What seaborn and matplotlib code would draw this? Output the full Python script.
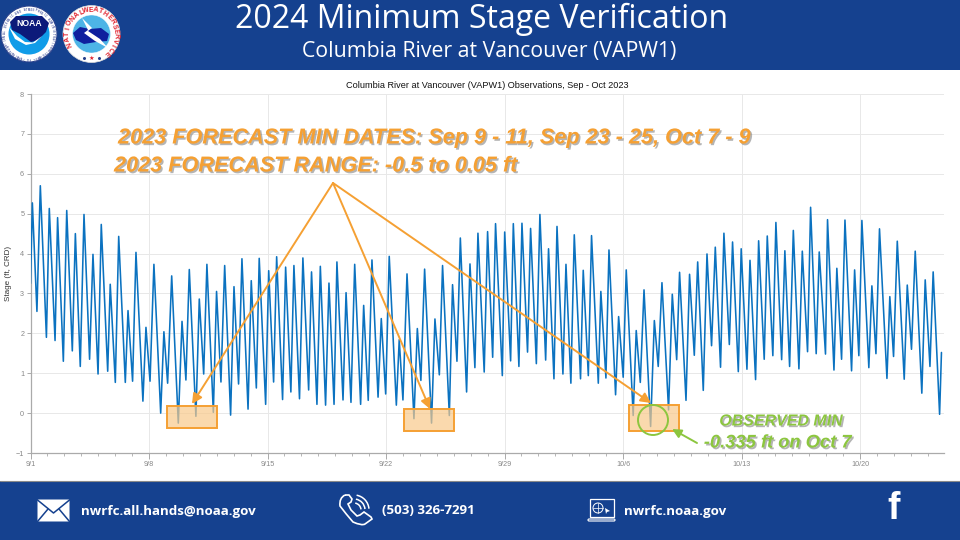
import numpy as np
import pandas as pd
import matplotlib
matplotlib.use('Agg')
import matplotlib.pyplot as plt
import matplotlib.patheffects as pe
from matplotlib.patches import Rectangle, Circle, Wedge, Polygon, Arc, FancyBboxPatch, PathPatch
from matplotlib.path import Path
import seaborn as sns

# days since 9/1 of each tidal high / low
days = [0, .11, .38, .58, .94, 1.11, 1.45, 1.60, 1.94, 2.14, 2.47, 2.65, 2.94, 3.16, 3.49, 3.69, 3.99, 4.18, 4.56, 4.71,
        5.01, 5.21, 5.60, 5.76, 6.03, 6.23, 6.64, 6.82, 7.06, 7.29, 7.69, 7.88, 8.10, 8.34, 8.73, 8.95, 9.18, 9.38, 9.77, 9.97,
        10.23, 10.42, 10.80, 10.99, 11.25, 11.47, 11.82, 12.02, 12.29, 12.49, 12.85, 13.04, 13.34, 13.51, 13.89, 14.07, 14.36, 14.54, 14.89, 15.07,
        15.38, 15.56, 15.89, 16.09, 16.43, 16.60, 16.92, 17.12, 17.43, 17.63, 17.93, 18.10, 18.46, 18.64, 18.93, 19.15, 19.50, 19.68, 19.95, 20.17,
        20.53, 20.72, 20.98, 21.19, 21.61, 21.78, 22.00, 22.24, 22.65, 22.85, 23.06, 23.28, 23.69, 23.89, 24.15, 24.34, 24.74, 24.93, 25.19, 25.39,
        25.76, 25.96, 26.25, 26.43, 26.80, 27.00, 27.30, 27.47, 27.87, 28.01, 28.36, 28.52, 28.85, 29.03, 29.36, 29.54, 29.88, 30.09, 30.43, 30.60,
        30.92, 31.10, 31.45, 31.63, 31.92, 32.12, 32.49, 32.65, 32.95, 33.14, 33.54, 33.69, 33.99, 34.17, 34.56, 34.74, 35.01, 35.19, 35.60, 35.78,
        36.02, 36.24, 36.63, 36.85, 37.08, 37.30, 37.69, 37.91, 38.17, 38.34, 38.72, 38.93, 39.21, 39.41, 39.74, 39.96, 40.23, 40.45, 40.76, 40.96,
        41.28, 41.47, 41.81, 41.98, 42.32, 42.50, 42.83, 43.01, 43.34, 43.52, 43.85, 44.03, 44.37, 44.56, 44.84, 45.06, 45.39, 45.59, 45.90, 46.08,
        46.41, 46.59, 46.96, 47.08, 47.46, 47.63, 47.91, 48.11, 48.50, 48.68, 48.93, 49.11, 49.52, 49.70, 49.94, 50.15, 50.59, 50.76, 50.98, 51.20,
        51.61, 51.79, 52.04, 52.26, 52.65, 52.85, 53.13, 53.32, 53.70, 53.81]
stage = [3.25, 5.27, 2.55, 5.70, 1.90, 5.13, 1.82, 4.90, 1.30, 5.08, 1.56, 4.50, 1.17, 4.98, 1.35, 3.98, .98, 4.73, 1.05, 3.23,
         .77, 4.43, .77, 2.57, .80, 4.03, .30, 2.15, .80, 3.73, 0, 2.04, .75, 3.44, -.25, 2.30, .83, 3.60, -.08, 2.86,
         .98, 3.73, .02, 3.05, .78, 3.70, -.05, 3.17, .73, 3.87, .10, 3.32, .63, 3.88, .22, 3.57, .78, 3.92, .34, 3.66,
         .53, 3.70, .36, 3.89, .58, 3.54, .22, 3.68, .20, 3.26, .22, 3.79, .33, 3.02, .27, 3.73, .22, 2.70, .32, 3.84,
         .40, 2.37, .48, 3.93, .20, 1.84, .33, 3.49, -.14, 2.12, .82, 3.61, -.25, 2.36, .96, 3.70, -.06, 3.22, 1.30, 4.39,
         .53, 3.74, 1.14, 4.51, 1.03, 4.55, 1.40, 4.75, .94, 4.54, 1.31, 4.75, 1.17, 4.76, 1.53, 4.63, 1.24, 4.98, 1.33, 4.12,
         .86, 4.68, .98, 3.73, .75, 4.47, .86, 3.58, .94, 4.45, .75, 3.05, .88, 4.09, .46, 2.42, .90, 3.59, -.06, 2.07,
         .77, 3.09, -.335, 2.32, 1.17, 3.27, .08, 2.98, 1.34, 3.53, .32, 3.48, 1.45, 3.79, .57, 3.99, 1.69, 4.16, 1.15, 4.51,
         1.72, 4.29, 1.04, 4.12, 1.10, 3.83, .84, 4.32, 1.35, 4.44, 1.44, 4.78, 1.34, 4.07, 1.17, 4.58, 1.11, 4.06, 1.54, 5.16,
         1.49, 4.04, 1.48, 4.85, 1.08, 3.63, 1.35, 4.84, 1.06, 3.59, 1.44, 4.83, 1.14, 3.19, 1.49, 4.62, .87, 2.92, 1.42, 4.31,
         .85, 3.21, 1.60, 4.06, .50, 3.34, 1.17, 3.54, -.03, 1.52]
tick_days = [0, 7, 14, 21, 28, 35, 42, 49]
tick_labels = ['9/1', '9/8', '9/15', '9/22', '9/29', '10/6', '10/13', '10/20']
y_ticks = [-1, 0, 1, 2, 3, 4, 5, 6, 7, 8]
# forecast windows: start day, end day, low, high
boxes_x0 = [8.06, 22.06, 35.35]
boxes_x1 = [11.03, 25.0, 38.3]
boxes_lo = [-.37, -.44, -.44]
boxes_hi = [.18, .10, .20]

BLUE = '#15418f'
ORANGE = '#f5a033'
GREEN = '#8cc63f'

sns.set_theme(style='whitegrid')
plt.rcParams['font.family'] = ['Liberation Sans', 'DejaVu Sans']

df = pd.DataFrame({'day': days, 'stage': stage})
fig = plt.figure(figsize=(9.6, 5.4), dpi=100, facecolor='white')
ax = fig.add_axes([30.5/960, 1-453/540, (944-30.5)/960, (453-94)/540])
sns.lineplot(data=df, x='day', y='stage', color='#0b72c0', linewidth=1.15, errorbar=None, ax=ax, zorder=3)
ax.set_xlim(0, 53.96)
ax.set_ylim(-1, 8)
ax.set_xticks(tick_days)
ax.set_xticklabels(tick_labels)
ax.set_xticks(np.arange(0, 54), minor=True)
ax.set_yticks(y_ticks)
ax.set_xlabel('')
ax.set_ylabel('Stage (ft, CRD)', fontsize=5.8, color='#333333', labelpad=3)
ax.set_facecolor('white')
ax.grid(True, which='major', color='#e8e8e8', linewidth=0.7)
ax.grid(False, which='minor')
ax.tick_params(axis='x', which='major', labelsize=5.2, labelcolor='#888888', color='#aaaaaa', length=4, width=.7, bottom=True, pad=1.5)
ax.tick_params(axis='x', which='minor', color='#aaaaaa', length=2, width=.6, bottom=True)
ax.tick_params(axis='y', labelsize=5.2, labelcolor='#888888', color='#aaaaaa', length=3, width=.7, left=True, pad=1.5)
for s in ['top', 'right']:
    ax.spines[s].set_visible(False)
for s in ['left', 'bottom']:
    ax.spines[s].set_color('#aaaaaa')
    ax.spines[s].set_linewidth(.9)
ax.set_title('Columbia River at Vancouver (VAPW1) Observations, Sep - Oct 2023', fontsize=6.6, color='#111111', y=1.0, pad=4.5)

for x0, x1, lo, hi in zip(boxes_x0, boxes_x1, boxes_lo, boxes_hi):
    ax.add_patch(Rectangle((x0, lo), x1-x0, hi-lo, facecolor='#f9c98a', alpha=.7, edgecolor='none', zorder=4))
    ax.add_patch(Rectangle((x0, lo), x1-x0, hi-lo, facecolor='none', edgecolor=ORANGE, linewidth=1.4, zorder=5))

# overlay in pixel coordinates for the slide furniture
ov = fig.add_axes([0, 0, 1, 1], zorder=10)
ov.set_xlim(0, 960)
ov.set_ylim(540, 0)
ov.axis('off')
ov.patch.set_alpha(0)

ov.add_patch(Rectangle((0, 0), 960, 69.5, facecolor=BLUE, edgecolor='none'))
ov.add_patch(Rectangle((0, 480.5), 960, 60, facecolor=BLUE, edgecolor='none'))
ov.plot([0, 960], [480.5, 480.5], color='#8a8a8a', lw=.8)
ov.text(482, 19, '2024 Minimum Stage Verification', color='white', fontsize=23, family='Open Sans', ha='center', va='center')
ov.text(489, 52, 'Columbia River at Vancouver (VAPW1)', color='white', fontsize=15.3, family='Open Sans', ha='center', va='center')


def ring_text(txt, cx, cy, r, start, end, color, size):
    for ch, a in zip(txt, np.linspace(start, end, len(txt))):
        t = np.radians(a)
        ov.text(cx + r*np.sin(t), cy - r*np.cos(t), ch, color=color, fontsize=size, fontweight='bold',
                ha='center', va='center', rotation=-a, family='Liberation Sans')


# NOAA logo
ov.add_patch(Circle((29, 34), 28, facecolor='white', edgecolor='#27408b', lw=.8))
ov.add_patch(Circle((29, 34), 20.5, facecolor='#109ce8', edgecolor='none'))
ov.add_patch(Polygon([[10, 22], [16, 16], [42, 16], [49, 23], [46, 32], [38, 40], [31, 42], [20, 34], [12, 30]],
                     closed=True, facecolor='#0c1a7a', edgecolor='none'))
ov.add_patch(Polygon([[9, 27], [17, 36], [25, 42], [33, 42.5], [42, 36], [35, 43], [26, 45], [15, 39]],
                     closed=True, facecolor='white', edgecolor='none'))
ov.text(29, 23, 'NOAA', color='white', fontsize=6.2, fontweight='bold', ha='center', va='center')
ring_text('NATIONAL OCEANIC AND ATMOSPHERIC ADMINISTRATION', 29, 34, 24.2, -120, 120, '#4a5aa0', 1.9)
ring_text('NOISSIMMOC FO TNEMTRAPED', 29, 34, 24.2, 125, 235, '#4a5aa0', 1.9)

# NWS logo
ov.add_patch(Circle((91.5, 34), 28.5, facecolor='white', edgecolor='#dddddd', lw=.5))
ov.add_patch(Circle((91.5, 34), 19, facecolor='#4db4e6', edgecolor='white', lw=.3))
ov.add_patch(Polygon([[73, 33], [80, 27], [90, 29], [101, 28], [109, 34], [107, 41], [96, 42], [84, 44], [76, 40]],
                     closed=True, facecolor='#0f1f9e', edgecolor='none'))
ov.add_patch(Polygon([[82, 18], [92, 28], [88, 31], [100, 39], [108, 48], [95, 41], [84, 33], [88, 30]],
                     closed=True, facecolor='white', edgecolor='none'))
ring_text('NATIONAL', 91.5, 34, 24, -115, -25, '#e0202c', 5)
ring_text('WEATHER', 91.5, 34, 24, -14, 58, '#e0202c', 5)
ring_text('SERVICE', 91.5, 34, 24, 72, 140, '#e0202c', 5)
ov.text(91.5, 58, '★', color='#e0202c', fontsize=4.5, ha='center', va='center', family='DejaVu Sans')
ov.plot([84, 99], [58, 58], ls='none', marker='o', ms=1.2, color='#27408b')

# orange callouts
shadow = [pe.withSimplePatchShadow(offset=(1.2, -1.2), shadow_rgbFace='#777777', alpha=.55)]
ov.text(118, 138, '2023 FORECAST MIN DATES: Sep 9 - 11, Sep 23 - 25, Oct 7 - 9', color=ORANGE, fontsize=15.6,
        fontweight='bold', style='italic', va='center', path_effects=shadow)
ov.text(114, 166, '2023 FORECAST RANGE: -0.5 to 0.05 ft', color=ORANGE, fontsize=15.6,
        fontweight='bold', style='italic', va='center', path_effects=shadow)
for tip in [(192, 404), (430, 409), (651, 403)]:
    ov.annotate('', xy=tip, xytext=(333, 183),
                arrowprops=dict(arrowstyle='-|>,head_width=.25,head_length=.5', color=ORANGE, lw=1.4, shrinkA=0, shrinkB=0))

# green observed min
ov.add_patch(Circle((653, 420), 15, facecolor='none', edgecolor=GREEN, lw=1.4))
ov.annotate('', xy=(672, 429), xytext=(697, 443),
            arrowprops=dict(arrowstyle='-|>,head_width=.22,head_length=.45', color=GREEN, lw=1.4, shrinkA=0, shrinkB=0))
ov.text(781, 421, 'OBSERVED MIN', color=GREEN, fontsize=11.5, fontweight='bold', style='italic', ha='center', va='center', path_effects=shadow)
ov.text(778, 443, '-0.335 ft on Oct 7', color=GREEN, fontsize=13.2, fontweight='bold', style='italic', ha='center', va='center', path_effects=shadow)

# footer
foot = dict(color='white', fontsize=9.6, fontweight='bold', family='Open Sans', va='center')
ov.text(81, 511, 'nwrfc.all.hands@noaa.gov', **foot)
ov.text(382, 511, '(503) 326-7291', **foot)
ov.text(624, 511, 'nwrfc.noaa.gov', **foot)
ov.text(894, 509, 'f', color='white', fontsize=27, fontweight='bold', family='Liberation Sans', ha='center', va='center')

# envelope
ov.add_patch(FancyBboxPatch((37.5, 499.5), 32, 22, boxstyle='round,pad=0,rounding_size=1', facecolor='white', edgecolor='none'))
ov.plot([37.5, 53.5, 69.5], [500, 513, 500], color=BLUE, lw=1.1)
ov.plot([37.5, 48], [521.5, 509], color=BLUE, lw=1.1)
ov.plot([69.5, 59], [521.5, 509], color=BLUE, lw=1.1)

# phone
handset = Path([(345, 495), (339, 498), (340, 506), (346, 514), (353, 522), (362, 526), (365, 524), (372, 519), (371, 517),
                (364, 512), (360, 515), (357, 516), (351, 510), (348, 504), (351, 502), (352, 499), (349, 495), (345, 495)],
               [Path.MOVETO, Path.CURVE3, Path.CURVE3, Path.CURVE3, Path.CURVE3, Path.CURVE3, Path.CURVE3, Path.LINETO, Path.LINETO,
                Path.LINETO, Path.LINETO, Path.LINETO, Path.LINETO, Path.LINETO, Path.LINETO, Path.LINETO, Path.LINETO, Path.LINETO])
ov.add_patch(PathPatch(handset, facecolor='none', edgecolor='white', lw=1.2))
for r in [7, 11, 15]:
    ov.add_patch(Arc((354, 510), 2*r, 2*r, theta1=-80, theta2=-5, color='white', lw=1.1))

# laptop
ov.add_patch(Rectangle((589.5, 499), 24, 18, facecolor='none', edgecolor='white', lw=.9))
ov.add_patch(FancyBboxPatch((588, 519), 27, 2, boxstyle='round,pad=0,rounding_size=1', facecolor='none', edgecolor='white', lw=.8))
ov.add_patch(Circle((598, 508), 5, facecolor='none', edgecolor='white', lw=.7))
ov.plot([593, 603], [508, 508], color='white', lw=.5)
ov.plot([598, 598], [503, 513], color='white', lw=.5)
ov.add_patch(Polygon([[605, 508], [610, 511], [607, 512], [606, 514]], closed=True, facecolor='white', edgecolor='none'))

fig.savefig('out.png', dpi=100)
plt.close()
